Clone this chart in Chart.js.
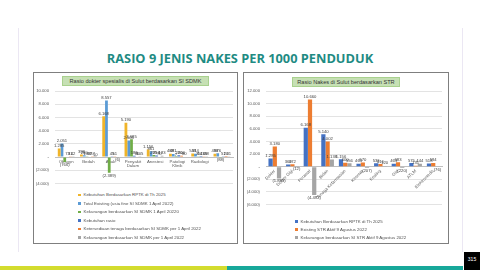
<!DOCTYPE html>
<html><head><meta charset="utf-8">
<script src="https://cdn.jsdelivr.net/npm/chart.js@4"></script>
<style>
html,body{margin:0;padding:0;background:#fff;}
body{width:480px;height:270px;position:relative;overflow:hidden;font-family:"Liberation Sans",Arial,sans-serif;}
.abs{position:absolute;}
#frameL{left:18px;top:28px;width:1px;height:224px;background:#ebe7f3;}
#frameR{left:462px;top:28px;width:1px;height:224px;background:#ebe7f3;}
#title{left:0;width:480px;top:48.5px;text-align:center;font-family:"Open Sans",sans-serif;font-weight:700;font-size:12.8px;color:#1f8b83;letter-spacing:0px;}
.box{border:1px solid #7f7f7f;background:#fff;}
.ctitle{background:#c6e0b4;border:1px solid #a9d18e;color:#333;font-size:5.6px;line-height:8px;text-align:center;white-space:nowrap;}
.leg{font-size:4.4px;color:#505050;white-space:nowrap;line-height:5px;}
.leg i{display:inline-block;width:2.5px;height:2.5px;margin-right:3px;vertical-align:middle;}
#barY{left:0;top:266px;width:227px;height:4px;background:#d3dc2e;}
#barT{left:227px;top:266px;width:236px;height:4px;background:#17a89a;}
#pg{left:464px;top:252px;width:16px;height:18px;background:#000;color:#fff;font-size:5px;text-align:center;line-height:14px;}
</style></head>
<body>
<div id="frameL" class="abs"></div><div id="frameR" class="abs"></div>
<div id="title" class="abs">RASIO 9 JENIS NAKES PER 1000 PENDUDUK</div>
<div class="abs box" style="left:33px;top:72px;width:203px;height:170px;"></div>
<div class="abs box" style="left:243px;top:72px;width:204px;height:170px;"></div>
<canvas id="c1" class="abs" style="left:34px;top:73px;" width="202" height="119"></canvas>
<canvas id="c2" class="abs" style="left:244px;top:73px;" width="203" height="140"></canvas>
<div class="abs ctitle" style="left:62px;top:76px;width:145px;">Rasio dokter spesialis di Sulut berdasarkan SI SDMK</div>
<div class="abs ctitle" style="left:292px;top:77px;width:106px;">Rasio Nakes di Sulut berdasarkan STR</div>
<div id="leg1"></div><div id="leg2"></div>
<div id="barY" class="abs"></div><div id="barT" class="abs"></div>
<div id="pg" class="abs">315</div>
<script>
// ---- Left chart data (SI SDMK) ----
const spesCategories = ["Obsgyn", "Bedah", "Anak", ["Penyakit","Dalam"], "Anestesi", ["Patologi","Klinik"], "Radiologi", ""];
const spesKebutuhanRPTK = [1285, 398, 6168, 5190, 1156, 488, 549, 488];
const spesTotalExisting = [2051, 260, 8557, 2505, 861, 481, 514, 576];
const spesKekurangan1 = [-766, 138, -2389, 2685, 295, 7, 35, -88];
const spesKebutuhanRasio = [73, 67, 45, 185, 253, 280, 143, 51];
const spesKetersediaan = [31, 57, 51, 80, 70, 200, 105, 20];
const spesKekurangan2 = [42, 10, -6, 105, 183, 80, 38, 31];
const spesLabels = [
  "Kebutuhan Berdasarkan RPTK di Th 2025",
  "Total Existing  (usia fine SI SDMK 1 April 2022)",
  "Kekurangan berdasarkan SI SDMK 1 April 20220",
  "Kebutuhan rasio",
  "Ketersediaan tenaga berdasarkan SI SDMK per 1 April 2022",
  "Kekurangan berdasarkan SI SDMK per 1 April 2022"
];
const spesColors = ["#f0b429", "#5b9bd5", "#70ad47", "#4472c4", "#ed7d31", "#a5a5a5"];
const spesTicks = [-4000, 10000, 2000];

// ---- Right chart data (STR) ----
const strCategories = ["Dokter", "Dokter Gigi", "Perawat", "Bidan", "Tenaga Kefarmasian", "Kesmas", "Kesling", "Gizi", "ATLM", "Elektromedis"];
const strKebutuhan = [1285, 360, 6168, 5140, 1156, 463, 536, 463, 575, 518];
const strExisting = [3180, 372, 10660, 4002, 600, 670, 416, 683, 131, 594];
const strKekurangan = [-1895, -12, -4492, 1138, 556, -207, 120, -220, 444, -76];
const strLabels = [
  "Kebutuhan Berdasarkan RPTK di Th 2025",
  "Existing STR Aktif 9 Agustus 2022",
  "Kekurangan berdasarkan SI STR Aktif 9 Agustus 2022"
];
const strColors = ["#4472c4", "#ed7d31", "#a5a5a5"];
const strTicks = [-6000, 12000, 2000];

function fmt(v){
  if (v === 0) return "-";
  const s = String(Math.round(Math.abs(v))).replace(/\B(?=(\d{3})+(?!\d))/g, ".");
  return v < 0 ? "(" + s + ")" : s;
}
const valueLabels = {
  id: "valueLabels",
  afterDatasetsDraw(chart){
    const ctx = chart.ctx;
    ctx.save();
    ctx.font = "4.2px 'Liberation Sans', Arial, sans-serif";
    ctx.fillStyle = "#404040";
    ctx.textAlign = "center";
    chart.data.datasets.forEach((ds, i) => {
      const meta = chart.getDatasetMeta(i);
      meta.data.forEach((bar, j) => {
        const v = ds.data[j];
        if (v >= 0) { ctx.textBaseline = "bottom"; ctx.fillText(fmt(v), bar.x, bar.y - 0.5); }
        else { ctx.textBaseline = "top"; ctx.fillText(fmt(v), bar.x, bar.y + 0.5); }
      });
    });
    ctx.restore();
  }
};

function makeChart(id, cats, series, labels, colors, ticks, yWidth, pad, rotate, catPct){
  const datasets = series.map((d, i) => ({
    label: labels[i], data: d, backgroundColor: colors[i],
    categoryPercentage: catPct, barPercentage: 1.0
  }));
  return new Chart(document.getElementById(id), {
    type: "bar",
    data: { labels: cats, datasets },
    options: {
      responsive: false, animation: false,
      layout: { padding: pad },
      plugins: { legend: { display: false }, tooltip: { enabled: false } },
      scales: {
        x: {
          position: { y: 0 },
          grid: { display: false, drawTicks: false },
          border: { color: "#bfbfbf" },
          ticks: {
            autoSkip: false, padding: 2, color: "#595959",
            font: { size: 4.3, family: "'Liberation Sans', Arial, sans-serif", lineHeight: 1.1 },
            maxRotation: rotate, minRotation: rotate
          }
        },
        y: {
          min: ticks[0], max: ticks[1],
          afterFit: (s) => { s.width = yWidth; },
          grid: { color: "#e3e3e3", drawTicks: false },
          border: { display: false },
          ticks: {
            stepSize: ticks[2], padding: 6, color: "#595959",
            font: { size: 4.2, family: "'Liberation Sans', Arial, sans-serif" },
            callback: (v) => fmt(v)
          }
        }
      }
    },
    plugins: [valueLabels]
  });
}

makeChart("c1", spesCategories,
  [spesKebutuhanRPTK, spesTotalExisting, spesKekurangan1, spesKebutuhanRasio, spesKetersediaan, spesKekurangan2],
  spesLabels, spesColors, spesTicks, 21, {left:0, right:3, top:18, bottom:7}, 0, 0.75);
makeChart("c2", strCategories,
  [strKebutuhan, strExisting, strKekurangan],
  strLabels, strColors, strTicks, 22, {left:0, right:5, top:18, bottom:3}, 45, 0.72);

function legend(el, labels, colors, left, top, step){
  const box = document.getElementById(el);
  labels.forEach((t, i) => {
    const d = document.createElement("div");
    d.className = "abs leg";
    d.style.left = left + "px";
    d.style.top = (top + i * step) + "px";
    d.innerHTML = '<i style="background:' + colors[i] + '"></i>' + t;
    box.appendChild(d);
  });
}
legend("leg1", spesLabels, spesColors, 78, 192, 8.5);
legend("leg2", strLabels, strColors, 295, 218.5, 8);
</script>
</body></html>
